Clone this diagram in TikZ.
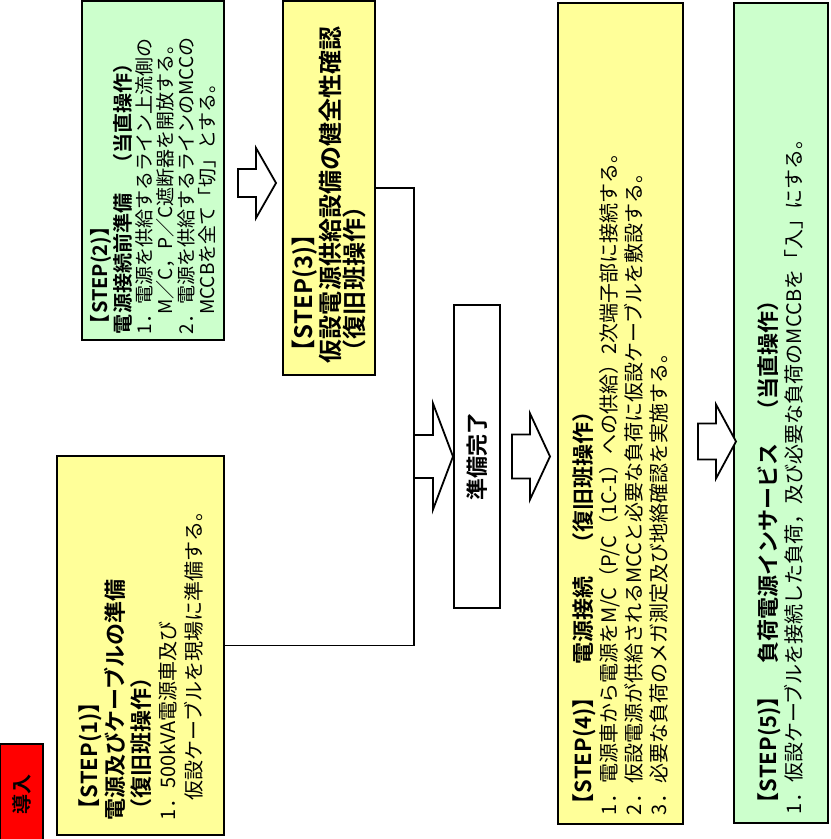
\documentclass[tikz,border=0pt]{standalone}
\usepackage{fontspec}
\setmainfont{Noto Sans CJK JP}[BoldFont={Noto Sans CJK JP Bold}]
\usetikzlibrary{calc}
\definecolor{stepyellow}{HTML}{FFFF99}
\definecolor{stepgreen}{HTML}{CCFFCC}
\definecolor{introred}{HTML}{FF0000}
\newcommand{\hd}[2][11]{{\bfseries\fontsize{#1}{13}\selectfont #2}}
% block arrow: start, tip, shaft half width, head half width
\newcommand{\blockarrow}[4]{%
  \draw[fill=white, line width=0.9pt] let \p1=(#1), \p2=(#2) in
    (\x1,\y1+#3) -- (\x2-10pt,\y1+#3) -- (\x2-10pt,\y1+#4) -- (\x2,\y1)
    -- (\x2-10pt,\y1-#4) -- (\x2-10pt,\y1-#3) -- (\x1,\y1-#3) -- cycle;}

\begin{document}
\begin{tikzpicture}[x=0.5pt, y=-0.5pt,
  box/.style={draw, line width=1pt, rotate=90, align=left, inner ysep=2pt,
    font=\fontsize{10}{13}\selectfont}]
  \useasboundingbox (0,0) rectangle (830,839);
  % steps
  \node[box, fill=introred, align=center, inner sep=0pt,
    minimum width=50.5pt, minimum height=21.5pt] (intro) at (21.5,794.5) {\hd[10]{導入}};
  \node[box, fill=stepyellow, minimum width=189.5pt, minimum height=83.5pt,
    inner xsep=7.5pt, text width=174.5pt] (s1) at (140.5,645.5)
    {\hd{【STEP(1)】}\\
     \hd{電源及びケーブルの準備}\\
     \hd{（復旧班操作）}\\
     1．500kVA電源車及び\\
     　仮設ケーブルを現場に準備する。};
  \node[box, fill=stepgreen, minimum width=169.5pt, minimum height=71pt,
    inner xsep=3pt, text width=163.5pt, font=\fontsize{9.5}{10.5}\selectfont] (s2) at (153,170.5)
    {\hd[10]{【STEP(2)】}\\
     \hd[10]{電源接続前準備　（当直操作）}\\
     1．電源を供給するライン上流側の\\
     　M／C，P／C遮断器を開放する。\\
     2．電源を供給するラインのMCCの\\
     　MCCBを全て「切」とする。};
  \node[box, fill=stepyellow, minimum width=187pt, minimum height=46pt,
    inner xsep=6pt, text width=175pt, font=\fontsize{12}{12}\selectfont\bfseries] (s3) at (329,188)
    {【STEP(3)】\\
     仮設電源供給設備の健全性確認\\
     （復旧班操作）};
  \node[box, fill=white, align=center, minimum width=151.5pt, minimum height=23pt] (done) at (477,456.5)
    {\hd{準備完了}};
  \node[box, fill=stepyellow, minimum width=410.5pt, minimum height=62.5pt,
    inner xsep=4.5pt, text width=401.5pt, font=\fontsize{10}{12.5}\selectfont] (s4) at (620.5,413.5)
    {\hd{【STEP(4)】　電源接続　（復旧班操作）}\\
     1．電源車から電源をM/C（P/C（1C-1）への供給）2次端子部に接続する。\\
     2．仮設電源が供給されるMCCと必要な負荷に仮設ケーブルを敷設する。\\
     3．必要な負荷のメガ測定及び地絡確認を実施する。};
  \node[box, fill=stepgreen, minimum width=410pt, minimum height=47pt,
    inner xsep=4.5pt, text width=401pt, font=\fontsize{10}{12.5}\selectfont] (s5) at (781,413)
    {\hd{【STEP(5)】　負荷電源インサービス　（当直操作）}\\
     1．仮設ケーブルを接続した負荷，及び必要な負荷のMCCBを「入」にする。};
  % joining line
  \coordinate (bus) at ([xshift=19pt]s3.south |- s1.south);
  \draw[line width=0.8pt] (s3.south) -| (bus) -- (s1.south);
  % block arrows
  \blockarrow{[xshift=6.5pt,yshift=2.5pt]s2.south |- s3.north}{[xshift=-3pt,yshift=2.5pt]s3.north}{7pt}{17.5pt}
  \blockarrow{bus |- done.north}{done.north}{10.75pt}{26.5pt}
  \blockarrow{[xshift=5.5pt]done.south}{[xshift=-3.5pt]s4.north |- done.south}{11pt}{21.5pt}
  \blockarrow{[xshift=7pt,yshift=-14pt]s4.south}{[xshift=1.5pt,yshift=-14pt]s5.north}{9pt}{18.5pt}
\end{tikzpicture}
\end{document}
